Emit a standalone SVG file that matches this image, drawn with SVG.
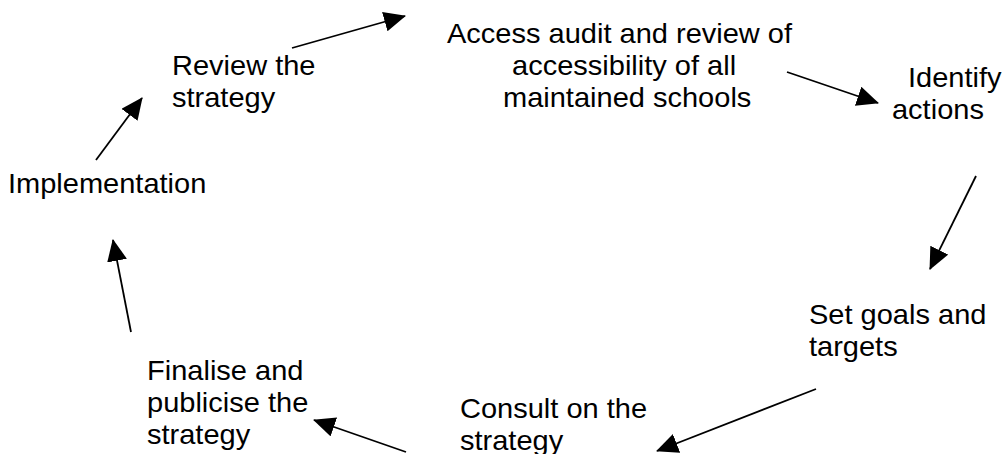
<svg xmlns="http://www.w3.org/2000/svg" width="1004" height="454" viewBox="0 0 1004 454">
  <style>
    .lbl { font-family: "Liberation Sans", Arial, sans-serif; font-size: 27px; fill: #000; }
    .arr { stroke: #000; stroke-width: 1.8; fill: none; marker-end: url(#head); }
  </style>
  <defs>
    <!-- solid triangular arrowhead shared by every connector -->
    <marker id="head" markerUnits="userSpaceOnUse" markerWidth="24" markerHeight="22" refX="21" refY="10" orient="auto">
      <path d="M0,0 L22,10 L0,20 z" fill="#000"/>
    </marker>
  </defs>
  <rect width="1004" height="454" fill="#fff"/>

  <g id="audit">
    <text class="lbl" transform="translate(447 43) scale(1.075 1)">
      <tspan x="0" y="0">Access audit and review of</tspan>
      <tspan x="60.5" y="32">accessibility of all</tspan>
      <tspan x="52.1" y="64">maintained schools</tspan>
    </text>
  </g>

  <g id="identify">
    <text class="lbl" transform="translate(908 87) scale(1.075 1)">
      <tspan x="0" y="0">Identify</tspan>
      <tspan x="-14.9" y="32">actions</tspan>
    </text>
  </g>

  <g id="goals">
    <text class="lbl" transform="translate(809 324) scale(1.075 1)">
      <tspan x="0" y="0">Set goals and</tspan>
      <tspan x="0" y="32">targets</tspan>
    </text>
  </g>

  <g id="consult">
    <text class="lbl" transform="translate(460 418) scale(1.075 1)">
      <tspan x="0" y="0">Consult on the</tspan>
      <tspan x="0" y="32">strategy</tspan>
    </text>
  </g>

  <g id="finalise">
    <text class="lbl" transform="translate(147 380) scale(1.075 1)">
      <tspan x="0" y="0">Finalise and</tspan>
      <tspan x="0" y="32">publicise the</tspan>
      <tspan x="0" y="64">strategy</tspan>
    </text>
  </g>

  <g id="implementation">
    <text class="lbl" transform="translate(8 193) scale(1.075 1)">Implementation</text>
  </g>

  <g id="review">
    <text class="lbl" transform="translate(172 75) scale(1.075 1)">
      <tspan x="0" y="0">Review the</tspan>
      <tspan x="0" y="32">strategy</tspan>
    </text>
  </g>

  <g id="connectors">
    <line class="arr" x1="292" y1="48" x2="405" y2="16"/>
    <line class="arr" x1="787" y1="72" x2="878" y2="103"/>
    <line class="arr" x1="976" y1="176" x2="930" y2="269"/>
    <line class="arr" x1="816" y1="389" x2="657" y2="451"/>
    <line class="arr" x1="406" y1="452" x2="314" y2="420"/>
    <line class="arr" x1="131" y1="332" x2="113" y2="240"/>
    <line class="arr" x1="96" y1="160" x2="142" y2="98"/>
  </g>
</svg>
